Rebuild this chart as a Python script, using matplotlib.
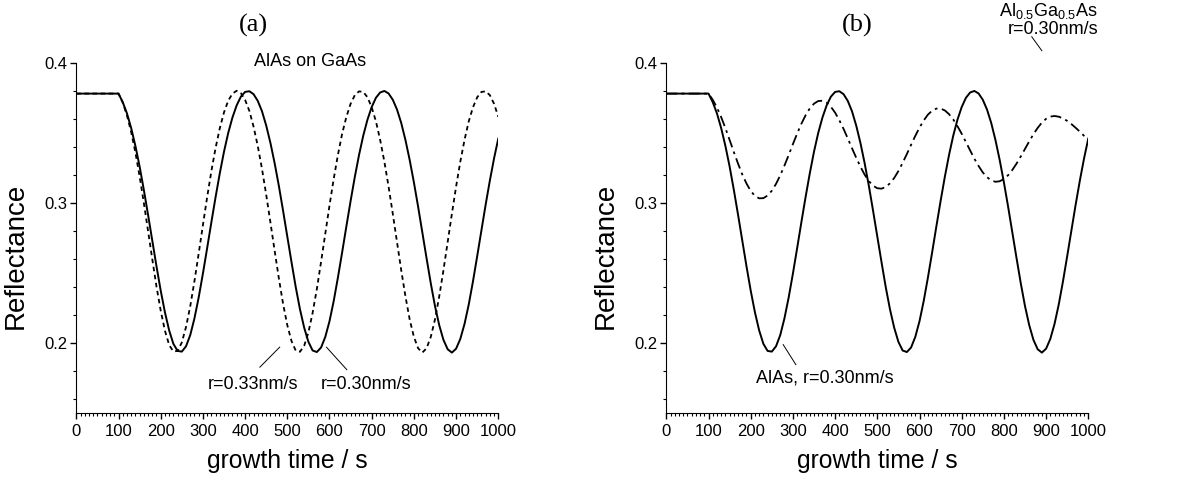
import matplotlib
matplotlib.use("Agg")
import matplotlib.pyplot as plt
from matplotlib.ticker import MultipleLocator

plt.rcParams['font.family'] = ['Liberation Sans', 'DejaVu Sans']
plt.rcParams['mathtext.default'] = 'regular'

# growth time grid (s): flat start, then every 10 s
time_s = [0] + list(range(100, 1001, 10))

# AlAs, r=0.30nm/s (solid)
alas_030 = [0.378, 0.378, 0.3719, 0.3639, 0.3534, 0.3407, 0.3260, 0.3093, 0.2915, 0.2731,
            0.2547, 0.2373, 0.2218, 0.2089, 0.1993, 0.1942, 0.1937, 0.1975, 0.2055, 0.2175,
            0.2324, 0.2494, 0.2675, 0.2860, 0.3040, 0.3210, 0.3365, 0.3499, 0.3609, 0.3696,
            0.3758, 0.3792, 0.3797, 0.3776, 0.3728, 0.3654, 0.3552, 0.3428, 0.3283, 0.3121,
            0.2943, 0.2759, 0.2576, 0.2398, 0.2240, 0.2108, 0.2007, 0.1945, 0.1934, 0.1966,
            0.2042, 0.2154, 0.2299, 0.2467, 0.2647, 0.2832, 0.3013, 0.3185, 0.3342, 0.3480,
            0.3594, 0.3684, 0.3750, 0.3788, 0.3799, 0.3781, 0.3736, 0.3666, 0.3570, 0.3448,
            0.3306, 0.3146, 0.2972, 0.2788, 0.2604, 0.2425, 0.2262, 0.2126, 0.2021, 0.1954,
            0.1930, 0.1958, 0.2028, 0.2135, 0.2274, 0.2439, 0.2619, 0.2803, 0.2986, 0.3159,
            0.3318, 0.3459]

# AlAs, r=0.33nm/s (dashed)
alas_033 = [0.378, 0.378, 0.3716, 0.3625, 0.3506, 0.3360, 0.3189, 0.3000, 0.2800, 0.2598,
            0.2402, 0.2230, 0.2087, 0.1985, 0.1938, 0.1942, 0.2002, 0.2113, 0.2261, 0.2441,
            0.2638, 0.2840, 0.3039, 0.3225, 0.3391, 0.3532, 0.3646, 0.3729, 0.3780, 0.3800,
            0.3783, 0.3735, 0.3657, 0.3545, 0.3406, 0.3243, 0.3058, 0.2860, 0.2658, 0.2460,
            0.2278, 0.2126, 0.2012, 0.1944, 0.1936, 0.1979, 0.2074, 0.2214, 0.2384, 0.2578,
            0.2779, 0.2981, 0.3171, 0.3343, 0.3494, 0.3614, 0.3707, 0.3769, 0.3796, 0.3792,
            0.3754, 0.3682, 0.3582, 0.3450, 0.3294, 0.3116, 0.2921, 0.2719, 0.2518, 0.2331,
            0.2167, 0.2042, 0.1961, 0.1930, 0.1961, 0.2042, 0.2167, 0.2331, 0.2518, 0.2719,
            0.2921, 0.3116, 0.3294, 0.3450, 0.3582, 0.3682, 0.3754, 0.3792, 0.3796, 0.3769,
            0.3707, 0.3614]

# Al0.5Ga0.5As, r=0.30nm/s (dash-dot)
algaas_030 = [0.378, 0.378, 0.3736, 0.3681, 0.3612, 0.3534, 0.3449, 0.3363, 0.3280, 0.3203,
              0.3138, 0.3085, 0.3049, 0.3032, 0.3033, 0.3052, 0.3086, 0.3135, 0.3196, 0.3266,
              0.3341, 0.3419, 0.3494, 0.3564, 0.3625, 0.3674, 0.3708, 0.3727, 0.3729, 0.3715,
              0.3686, 0.3644, 0.3590, 0.3528, 0.3460, 0.3390, 0.3322, 0.3258, 0.3201, 0.3155,
              0.3122, 0.3104, 0.3101, 0.3113, 0.3139, 0.3177, 0.3227, 0.3285, 0.3348, 0.3414,
              0.3478, 0.3537, 0.3588, 0.3630, 0.3658, 0.3673, 0.3673, 0.3660, 0.3633, 0.3595,
              0.3547, 0.3493, 0.3434, 0.3374, 0.3315, 0.3263, 0.3217, 0.3183, 0.3160, 0.3150,
              0.3154, 0.3170, 0.3197, 0.3235, 0.3280, 0.3331, 0.3385, 0.3439, 0.3490, 0.3535,
              0.3573, 0.3600, 0.3616, 0.3620, 0.3615, 0.3603, 0.3585, 0.3562, 0.3536, 0.3508,
              0.3478, 0.3447]

W, H = 1179, 486
fig = plt.figure(figsize=(W / 100, H / 100), dpi=100)


def px(x, y):
    return x / W, 1 - y / H


def setup_axes(left_px):
    ax = fig.add_axes([left_px / W, 1 - 412.8 / H, 422 / W, 350 / H])
    ax.set_xlim(0, 1000)
    ax.set_ylim(0.15, 0.4)
    ax.spines['top'].set_visible(False)
    ax.spines['right'].set_visible(False)
    ax.xaxis.set_major_locator(MultipleLocator(100))
    ax.xaxis.set_minor_locator(MultipleLocator(10))
    ax.yaxis.set_major_locator(MultipleLocator(0.1))
    ax.yaxis.set_minor_locator(MultipleLocator(0.02))
    ax.tick_params(which='major', direction='out', length=4.5, width=1, labelsize=12)
    ax.tick_params(which='minor', direction='out', length=2.5, width=0.8)
    ax.tick_params(axis='x', pad=3.5)
    ax.tick_params(axis='y', pad=2)
    return ax


ax1 = setup_axes(76.3)
ax1.plot(time_s, alas_030, color='black', lw=1.4)
ax1.plot(time_s, alas_033, color='black', lw=1.3, ls=(0, (2.5, 2)))
ax1.text(554, 0.401, 'AlAs on GaAs', ha='center', va='center', fontsize=13)
ax1.text(419, 0.170, 'r=0.33nm/s', ha='center', va='center', fontsize=13)
ax1.text(687, 0.170, 'r=0.30nm/s', ha='center', va='center', fontsize=13)
ax1.plot([435, 482], [0.1826, 0.1969], color='black', lw=0.7)
ax1.plot([593, 641], [0.1968, 0.1808], color='black', lw=0.7)

ax2 = setup_axes(666.3)
ax2.plot(time_s, alas_030, color='black', lw=1.4)
ax2.plot(time_s, algaas_030, color='black', lw=1.3, ls=(0, (6, 2.5, 1.5, 2.5)))
ax2.text(376, 0.175, 'AlAs, r=0.30nm/s', ha='center', va='center', fontsize=13)
ax2.plot([277, 307], [0.1987, 0.1844], color='black', lw=0.7)
ax2.text(1023, 0.4306, 'Al$_{0.5}$Ga$_{0.5}$As\nr=0.30nm/s', ha='right', va='center',
         multialignment='right', linespacing=1.0, fontsize=13, clip_on=False)
ax2.plot([866, 890], [0.4186, 0.4086], color='black', lw=0.7, clip_on=False)

for x_title, label in [(253, '(a)'), (857, '(b)')]:
    fig.text(*px(x_title, 25), label, ha='center', va='center', fontsize=19,
             family='Liberation Serif')
for x_lab in [16, 606]:
    fig.text(*px(x_lab, 256), 'Reflectance', rotation=90, ha='center', va='center',
             fontsize=20)
for x_lab in [287, 877]:
    fig.text(*px(x_lab, 461), 'growth time / s', ha='center', va='center', fontsize=17.8)

fig.savefig('out.png', dpi=100)
